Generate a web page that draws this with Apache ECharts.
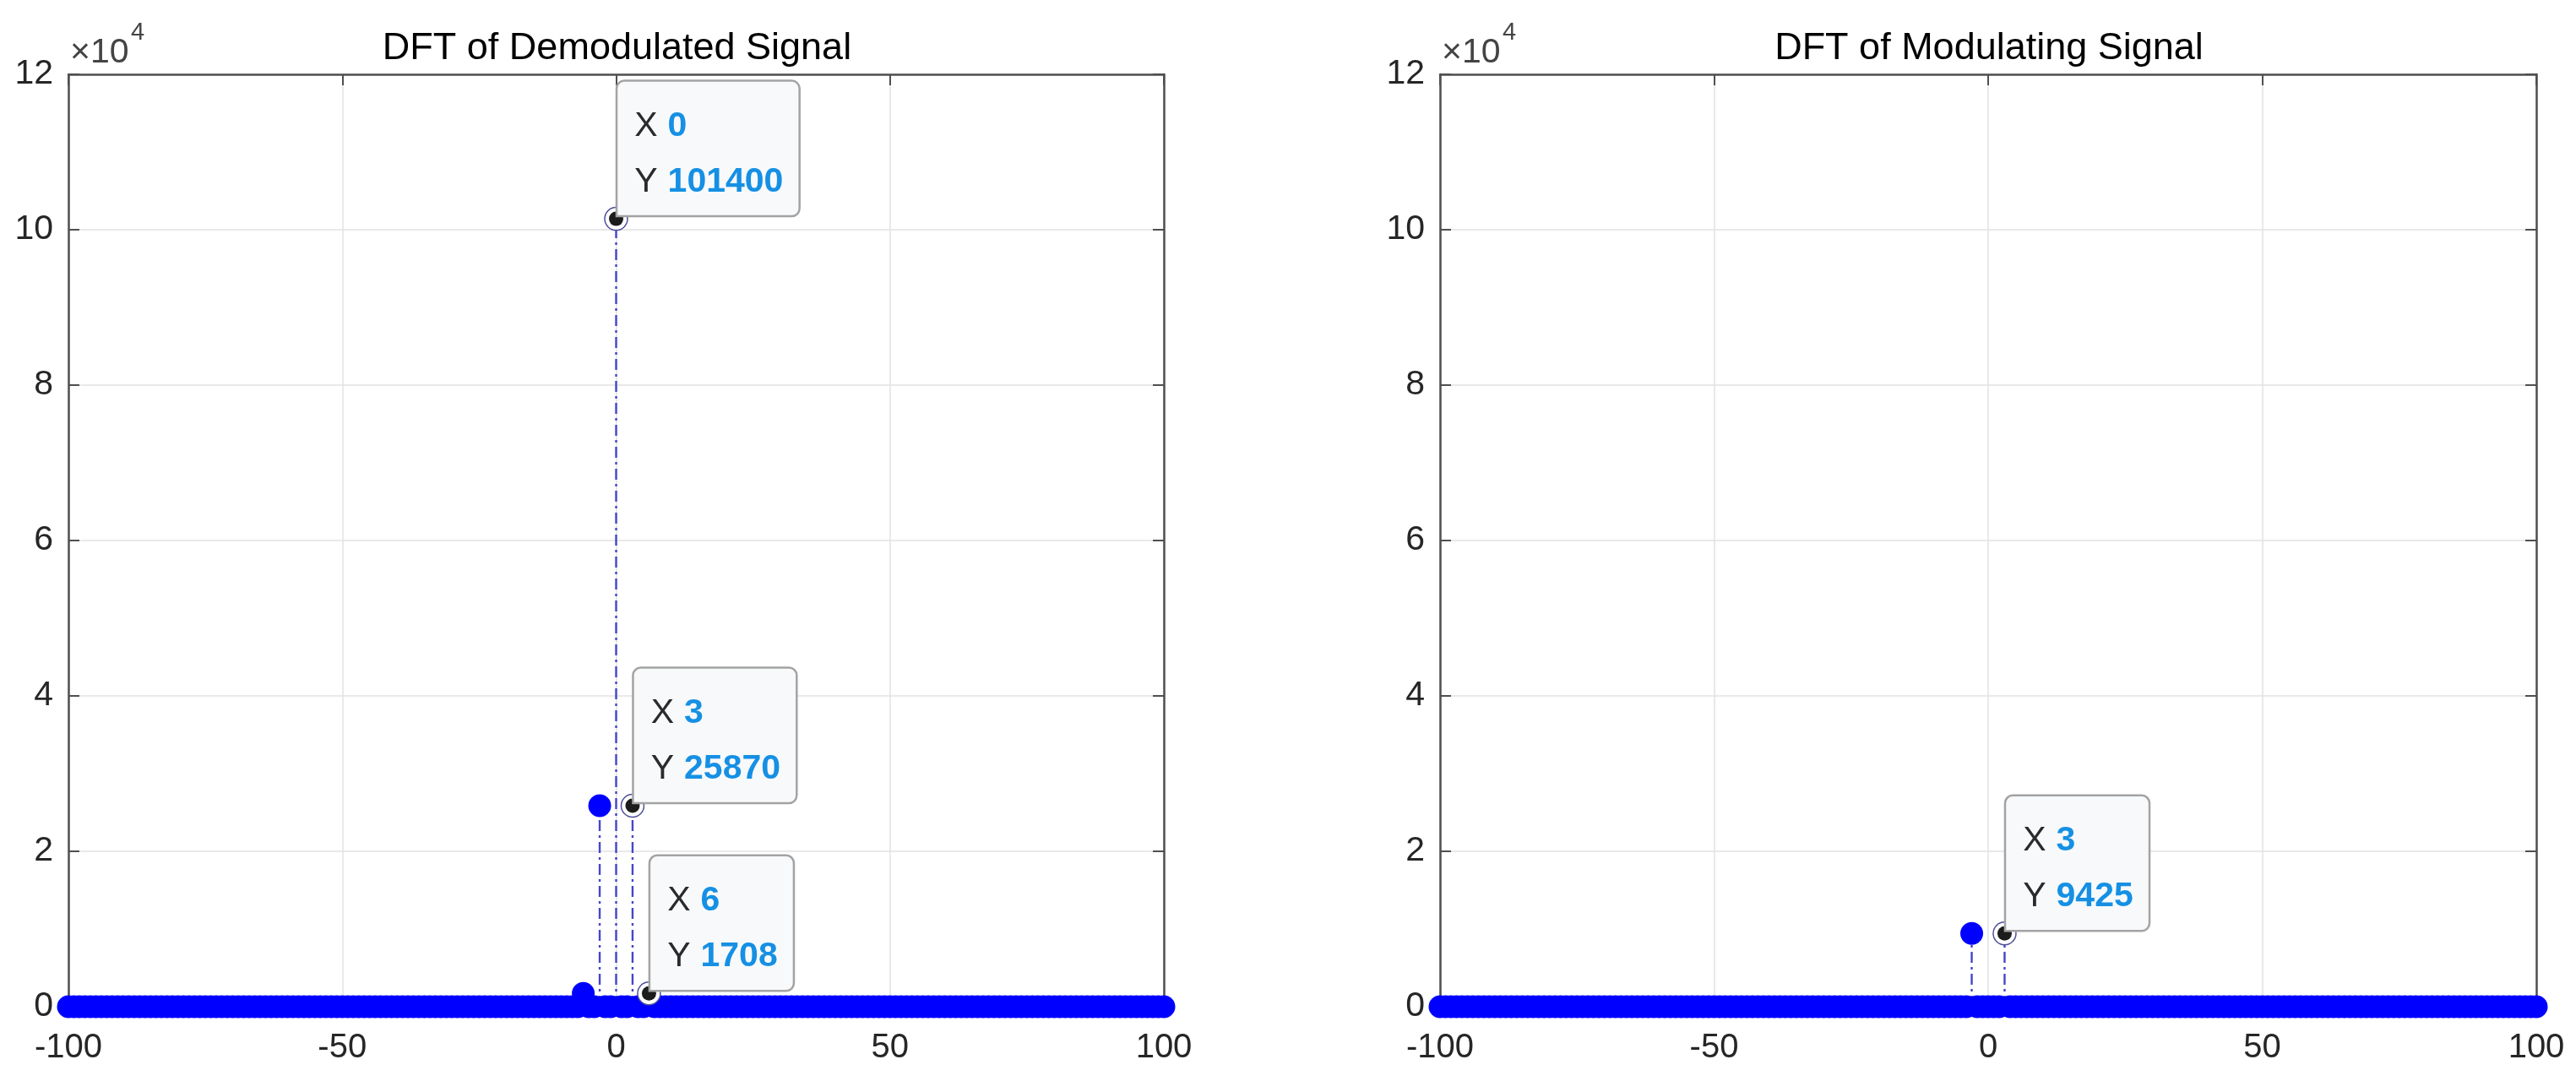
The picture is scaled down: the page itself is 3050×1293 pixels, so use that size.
<!DOCTYPE html>
<html>
<head>
<meta charset="utf-8">
<script src="https://cdn.jsdelivr.net/npm/echarts@6/dist/echarts.min.js"></script>
<style>
html,body{margin:0;padding:0;background:#fff;}
#chart{width:3050px;height:1293px;}
</style>
</head>
<body>
<div id="chart"></div>
<script>
// ---------- DATA ----------
const bins = [
  -100,-99,-98,-97,-96,-95,-94,-93,-92,-91,
  -90,-89,-88,-87,-86,-85,-84,-83,-82,-81,
  -80,-79,-78,-77,-76,-75,-74,-73,-72,-71,
  -70,-69,-68,-67,-66,-65,-64,-63,-62,-61,
  -60,-59,-58,-57,-56,-55,-54,-53,-52,-51,
  -50,-49,-48,-47,-46,-45,-44,-43,-42,-41,
  -40,-39,-38,-37,-36,-35,-34,-33,-32,-31,
  -30,-29,-28,-27,-26,-25,-24,-23,-22,-21,
  -20,-19,-18,-17,-16,-15,-14,-13,-12,-11,
  -10,-9,-8,-7,-6,-5,-4,-3,-2,-1,
  0,1,2,3,4,5,6,7,8,9,
  10,11,12,13,14,15,16,17,18,19,
  20,21,22,23,24,25,26,27,28,29,
  30,31,32,33,34,35,36,37,38,39,
  40,41,42,43,44,45,46,47,48,49,
  50,51,52,53,54,55,56,57,58,59,
  60,61,62,63,64,65,66,67,68,69,
  70,71,72,73,74,75,76,77,78,79,
  80,81,82,83,84,85,86,87,88,89,
  90,91,92,93,94,95,96,97,98,99,
  100
];
const demodMag = [
  0,0,0,0,0,0,0,0,0,0,
  0,0,0,0,0,0,0,0,0,0,
  0,0,0,0,0,0,0,0,0,0,
  0,0,0,0,0,0,0,0,0,0,
  0,0,0,0,0,0,0,0,0,0,
  0,0,0,0,0,0,0,0,0,0,
  0,0,0,0,0,0,0,0,0,0,
  0,0,0,0,0,0,0,0,0,0,
  0,0,0,0,0,0,0,0,0,0,
  0,0,0,0,1708,0,0,25870,0,0,
  101400,0,0,25870,0,0,1708,0,0,0,
  0,0,0,0,0,0,0,0,0,0,
  0,0,0,0,0,0,0,0,0,0,
  0,0,0,0,0,0,0,0,0,0,
  0,0,0,0,0,0,0,0,0,0,
  0,0,0,0,0,0,0,0,0,0,
  0,0,0,0,0,0,0,0,0,0,
  0,0,0,0,0,0,0,0,0,0,
  0,0,0,0,0,0,0,0,0,0,
  0,0,0,0,0,0,0,0,0,0,
  0
];
const modMag = [
  0,0,0,0,0,0,0,0,0,0,
  0,0,0,0,0,0,0,0,0,0,
  0,0,0,0,0,0,0,0,0,0,
  0,0,0,0,0,0,0,0,0,0,
  0,0,0,0,0,0,0,0,0,0,
  0,0,0,0,0,0,0,0,0,0,
  0,0,0,0,0,0,0,0,0,0,
  0,0,0,0,0,0,0,0,0,0,
  0,0,0,0,0,0,0,0,0,0,
  0,0,0,0,0,0,0,9425,0,0,
  0,0,0,9425,0,0,0,0,0,0,
  0,0,0,0,0,0,0,0,0,0,
  0,0,0,0,0,0,0,0,0,0,
  0,0,0,0,0,0,0,0,0,0,
  0,0,0,0,0,0,0,0,0,0,
  0,0,0,0,0,0,0,0,0,0,
  0,0,0,0,0,0,0,0,0,0,
  0,0,0,0,0,0,0,0,0,0,
  0,0,0,0,0,0,0,0,0,0,
  0,0,0,0,0,0,0,0,0,0,
  0
];
const demodTipX = [0, 3, 6];
const demodTipY = [101400, 25870, 1708];
const modTipX = [3];
const modTipY = [9425];
const titles = ['DFT of Demodulated Signal', 'DFT of Modulating Signal'];
const xMin = -100, xMax = 100, xStep = 50;
const yMin = 0, yMax = 120000, yStep = 20000, yExpScale = 10000;

// ---------- STYLE / LAYOUT ----------
const FONT = '"Liberation Sans", Arial, Helvetica, sans-serif';
const grids = [
  {left: 81, top: 88, width: 1297, height: 1104},
  {left: 1705, top: 88, width: 1298, height: 1104}
];
const AXIS_COLOR = '#4f4f4f';
const TEXT_COLOR = '#262626';
const GRID_COLOR = '#e2e2e2';
const MARK_COLOR = '#0000ff';
const STEM_COLOR = '#4646c8';

function pairs(xs, ys) { return xs.map((x, i) => [x, ys[i]]); }

const chart = echarts.init(document.getElementById('chart'), null, {renderer: 'canvas'});

const xAxes = [], yAxes = [], series = [], titleComps = [], graphics = [];

grids.forEach((g, gi) => {
  xAxes.push({
    gridIndex: gi, type: 'value', min: xMin, max: xMax, interval: xStep, position: 'bottom',
    axisLine: {show: true, onZero: false, lineStyle: {color: AXIS_COLOR, width: 2.5}},
    axisTick: {show: true, inside: true, length: 13, lineStyle: {color: AXIS_COLOR, width: 2}},
    axisLabel: {show: true, margin: 29, fontSize: 40, color: TEXT_COLOR, fontFamily: FONT},
    splitLine: {show: true, lineStyle: {color: GRID_COLOR, width: 1.5}}
  });
  xAxes.push({
    gridIndex: gi, type: 'value', min: xMin, max: xMax, interval: xStep, position: 'top',
    axisLine: {show: true, onZero: false, lineStyle: {color: AXIS_COLOR, width: 2.5}},
    axisTick: {show: true, inside: true, length: 13, lineStyle: {color: AXIS_COLOR, width: 2}},
    axisLabel: {show: false}, splitLine: {show: false}
  });
  yAxes.push({
    gridIndex: gi, type: 'value', min: yMin, max: yMax, interval: yStep, position: 'left',
    axisLine: {show: true, onZero: false, lineStyle: {color: AXIS_COLOR, width: 2.5}},
    axisTick: {show: true, inside: true, length: 13, lineStyle: {color: AXIS_COLOR, width: 2}},
    axisLabel: {show: true, margin: 18, fontSize: 41, color: TEXT_COLOR, fontFamily: FONT,
      formatter: v => String(Math.round(v / yExpScale))},
    splitLine: {show: true, lineStyle: {color: GRID_COLOR, width: 1.5}}
  });
  yAxes.push({
    gridIndex: gi, type: 'value', min: yMin, max: yMax, interval: yStep, position: 'right',
    axisLine: {show: true, onZero: false, lineStyle: {color: AXIS_COLOR, width: 2.5}},
    axisTick: {show: true, inside: true, length: 13, lineStyle: {color: AXIS_COLOR, width: 2}},
    axisLabel: {show: false}, splitLine: {show: false}
  });

  titleComps.push({
    text: titles[gi], left: g.left + g.width / 2 - 4, top: 30, textAlign: 'center',
    textStyle: {fontSize: 45, fontWeight: 'normal', color: '#000', fontFamily: FONT}
  });

  graphics.push({type: 'text', left: g.left + 2, top: 42, z: 100,
    style: {text: '×10', fontSize: 41, fill: '#444444', fontFamily: FONT}});
  graphics.push({type: 'text', left: g.left + 74, top: 24, z: 100,
    style: {text: '4', fontSize: 29, fill: '#444444', fontFamily: FONT}});
});

function tipItems(tx, ty) {
  const items = [];
  tx.forEach((x, i) => {
    items.push({
      coord: [x, ty[i]], symbol: 'circle', symbolSize: 27,
      itemStyle: {color: '#ffffff', borderColor: '#50509a', borderWidth: 1.5},
      label: {
        show: true, position: [16, 10], align: 'left', verticalAlign: 'bottom',
        formatter: '{k|X}{v|' + x + '}\n{k|Y}{v|' + ty[i] + '}',
        backgroundColor: '#f8f9fb', borderColor: '#a3a3a3', borderWidth: 2.5,
        borderRadius: [8, 8, 8, 0], padding: [20, 18, 6, 20],
        rich: {
          k: {fontSize: 41, color: '#2b2b2b', fontFamily: FONT, lineHeight: 66, padding: [0, 12, 0, 0]},
          v: {fontSize: 41, color: '#1590e4', fontWeight: 'bold', fontFamily: FONT, lineHeight: 66}
        }
      }
    });
    items.push({
      coord: [x, ty[i]], symbol: 'circle', symbolSize: 17,
      itemStyle: {color: '#1c1c1c', borderWidth: 0},
      label: {show: false}
    });
  });
  return items;
}

const sets = [
  {mag: demodMag, tx: demodTipX, ty: demodTipY},
  {mag: modMag, tx: modTipX, ty: modTipY}
];

sets.forEach((s, gi) => {
  const data = pairs(bins, s.mag);
  series.push({
    type: 'custom', xAxisIndex: gi * 2, yAxisIndex: gi * 2, data: data, z: 2,
    encode: {x: 0, y: 1},
    renderItem: function (params, api) {
      const x = api.value(0), y = api.value(1);
      if (!y) return null;
      const p0 = api.coord([x, 0]);
      const p1 = api.coord([x, y]);
      return {
        type: 'line',
        shape: {x1: p0[0], y1: p0[1], x2: p1[0], y2: p1[1]},
        style: {stroke: STEM_COLOR, lineWidth: 2.4, lineDash: [13, 5, 3, 5]}
      };
    }
  });
  series.push({
    type: 'scatter', xAxisIndex: gi * 2, yAxisIndex: gi * 2, data: data, z: 3,
    symbol: 'circle', symbolSize: 27,
    itemStyle: {color: MARK_COLOR, opacity: 1},
    emphasis: {disabled: true},
    markPoint: {
      animation: false, z: 10,
      data: tipItems(s.tx, s.ty)
    }
  });
});

chart.setOption({
  animation: false,
  backgroundColor: '#ffffff',
  title: titleComps,
  grid: grids,
  xAxis: xAxes,
  yAxis: yAxes,
  series: series,
  graphic: graphics
});
</script>
</body>
</html>
